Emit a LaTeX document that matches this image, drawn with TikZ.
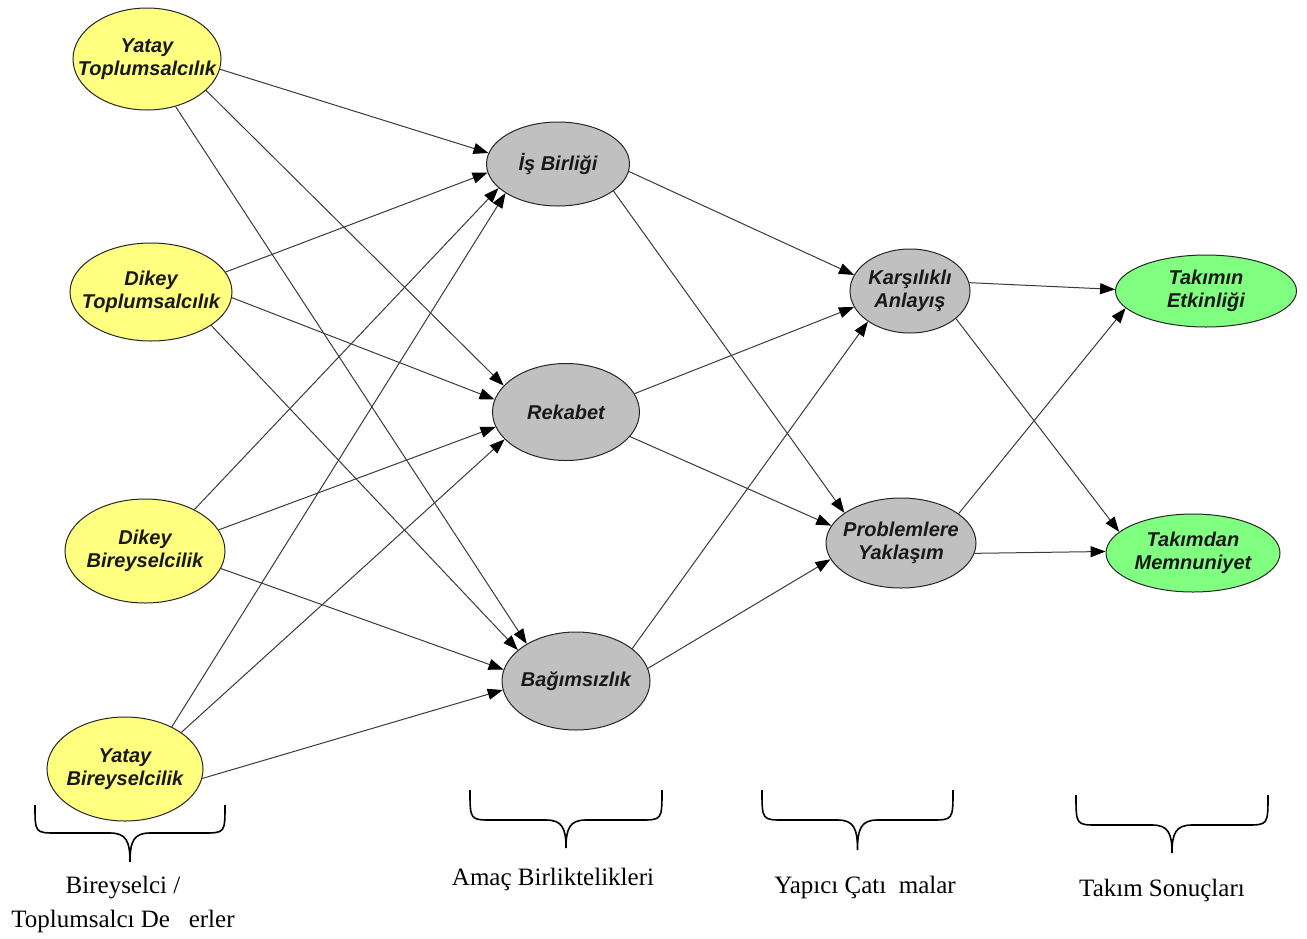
\documentclass[tikz,border=0pt]{standalone}
\usepackage{fontspec}
\setmainfont{Liberation Serif}
\setsansfont{Liberation Sans}
\usetikzlibrary{shapes.geometric,arrows.meta}
\definecolor{valyellow}{HTML}{FFFF80}
\definecolor{goalgray}{HTML}{C0C0C0}
\definecolor{outgreen}{HTML}{80FF80}
\definecolor{edgegray}{HTML}{3A3A3A}
\tikzset{
  var/.style={ellipse, draw=black!85, line width=1pt, inner sep=0pt},
  valnode/.style={var, fill=valyellow},
  goalnode/.style={var, fill=goalgray},
  confnode/.style={var, fill=goalgray},
  resnode/.style={var, fill=outgreen},
  vartext/.style={align=center, inner sep=0pt, text=black!90,
    font=\sffamily\bfseries\itshape\fontsize{20}{23}\selectfont},
  link/.style={draw=edgegray, line width=1pt, -{Triangle[length=15pt,width=11pt,black]}},
  bracepath/.style={draw=black, line width=1.6pt},
  grouplabel/.style={font=\rmfamily\fontsize{25}{34}\selectfont, align=center, inner sep=0pt}
}
\begin{document}
\begin{tikzpicture}[x=1pt,y=-1pt]
\useasboundingbox (0,0) rectangle (1307,938);

% values
\node[valnode, minimum width=148pt, minimum height=102pt] (yt) at (147,59) {};
\node[valnode, minimum width=162pt, minimum height=98pt] (dt) at (151,292) {};
\node[valnode, minimum width=160pt, minimum height=104pt] (db) at (145,551) {};
\node[valnode, minimum width=156pt, minimum height=104pt] (yb) at (125,769) {};

% goal interdependence
\node[goalnode, minimum width=143pt, minimum height=84pt] (is) at (558,164) {};
\node[goalnode, minimum width=147pt, minimum height=97pt] (rk) at (566,412) {};
\node[goalnode, minimum width=148pt, minimum height=98pt] (bg) at (576,681) {};

% constructive conflict
\node[confnode, minimum width=120pt, minimum height=84pt] (ka) at (910,291) {};
\node[confnode, minimum width=150pt, minimum height=90pt] (py) at (901,543) {};

% team outcomes
\node[resnode, minimum width=181pt, minimum height=72pt] (te) at (1206,291) {};
\node[resnode, minimum width=174pt, minimum height=78pt] (tm) at (1193,553) {};

% node texts
\node[vartext] (yt-t) at (yt) {Yatay\\Toplumsalcılık};
\node[vartext] (dt-t) at (dt) {Dikey\\Toplumsalcılık};
\node[vartext] (db-t) at (db) {Dikey\\Bireyselcilik};
\node[vartext] (yb-t) at (yb) {Yatay\\Bireyselcilik};
\node[vartext] (is-t) at (is) {İş Birliği};
\node[vartext] (rk-t) at (rk) {Rekabet};
\node[vartext] (bg-t) at (bg) {Bağımsızlık};
\node[vartext] (ka-t) at (ka) {Karşılıklı\\Anlayış};
\node[vartext] (py-t) at (py) {Problemlere\\Yaklaşım};
\node[vartext] (te-t) at (te) {Takımın\\Etkinliği};
\node[vartext] (tm-t) at (tm) {Takımdan\\Memnuniyet};

% values -> goal interdependence
\draw[link] (yt.-8)  -- (is.171);
\draw[link] (yt.-28) -- (rk.157);
\draw[link] (yt.-59) -- (bg.143);
\draw[link] (dt.15)  -- (is.187);
\draw[link] (dt.-4)  -- (rk.170);
\draw[link] (dt.-29) -- (bg.152);
\draw[link] (db.40)  -- (is.202);
\draw[link] (db.16)  -- (rk.192);
\draw[link] (db.-13) -- (bg.171);
\draw[link] (yb.42)  -- (is.209);
\draw[link] (yb.33)  -- (rk.204);
\draw[link] (yb.-7)  -- (bg.187);

% goal interdependence -> constructive conflict
\draw[link] (is.-6)  -- (ka.164);
\draw[link] (is.-26) -- (py.152);
\draw[link] (rk.15)  -- (ka.196);
\draw[link] (rk.-21) -- (py.166);
\draw[link] (bg.30)  -- (ka.216);
\draw[link] (bg.10)  -- (py.193);

% constructive conflict -> team outcomes
\draw[link] (ka.8)   -- (te.179);
\draw[link] (ka.-31) -- (tm.164);
\draw[link] (py.27)  -- (te.192);
\draw[link] (py.-8)  -- (tm.179);

% group braces
\foreach \xl/\xr/\yt/\yh/\yb in {35/225/805/833/862, 470/662/790/820/848, 762/953/790/820/850, 1076/1268/795/825/853}{
  \pgfmathsetmacro{\xc}{(\xl+\xr)/2}
  \draw[bracepath] (\xl,\yt) .. controls (\xl,\yh) .. (\xl+22,\yh)
    -- (\xc-20,\yh) .. controls (\xc-4,\yh) and (\xc,\yh+8) .. (\xc,\yb)
    .. controls (\xc,\yh+8) and (\xc+4,\yh) .. (\xc+20,\yh)
    -- (\xr-22,\yh) .. controls (\xr,\yh) .. (\xr,\yt);
}

% group labels
\node[grouplabel] (g1) at (123,904) {Bireyselci /\\Toplumsalcı De\ \ \ erler};
\node[grouplabel] (g2) at (553,879) {Amaç Birliktelikleri};
\node[grouplabel] (g3) at (865,887) {Yapıcı Çatı\ \ malar};
\node[grouplabel] (g4) at (1162,890) {Takım Sonuçları};
\end{tikzpicture}
\end{document}
